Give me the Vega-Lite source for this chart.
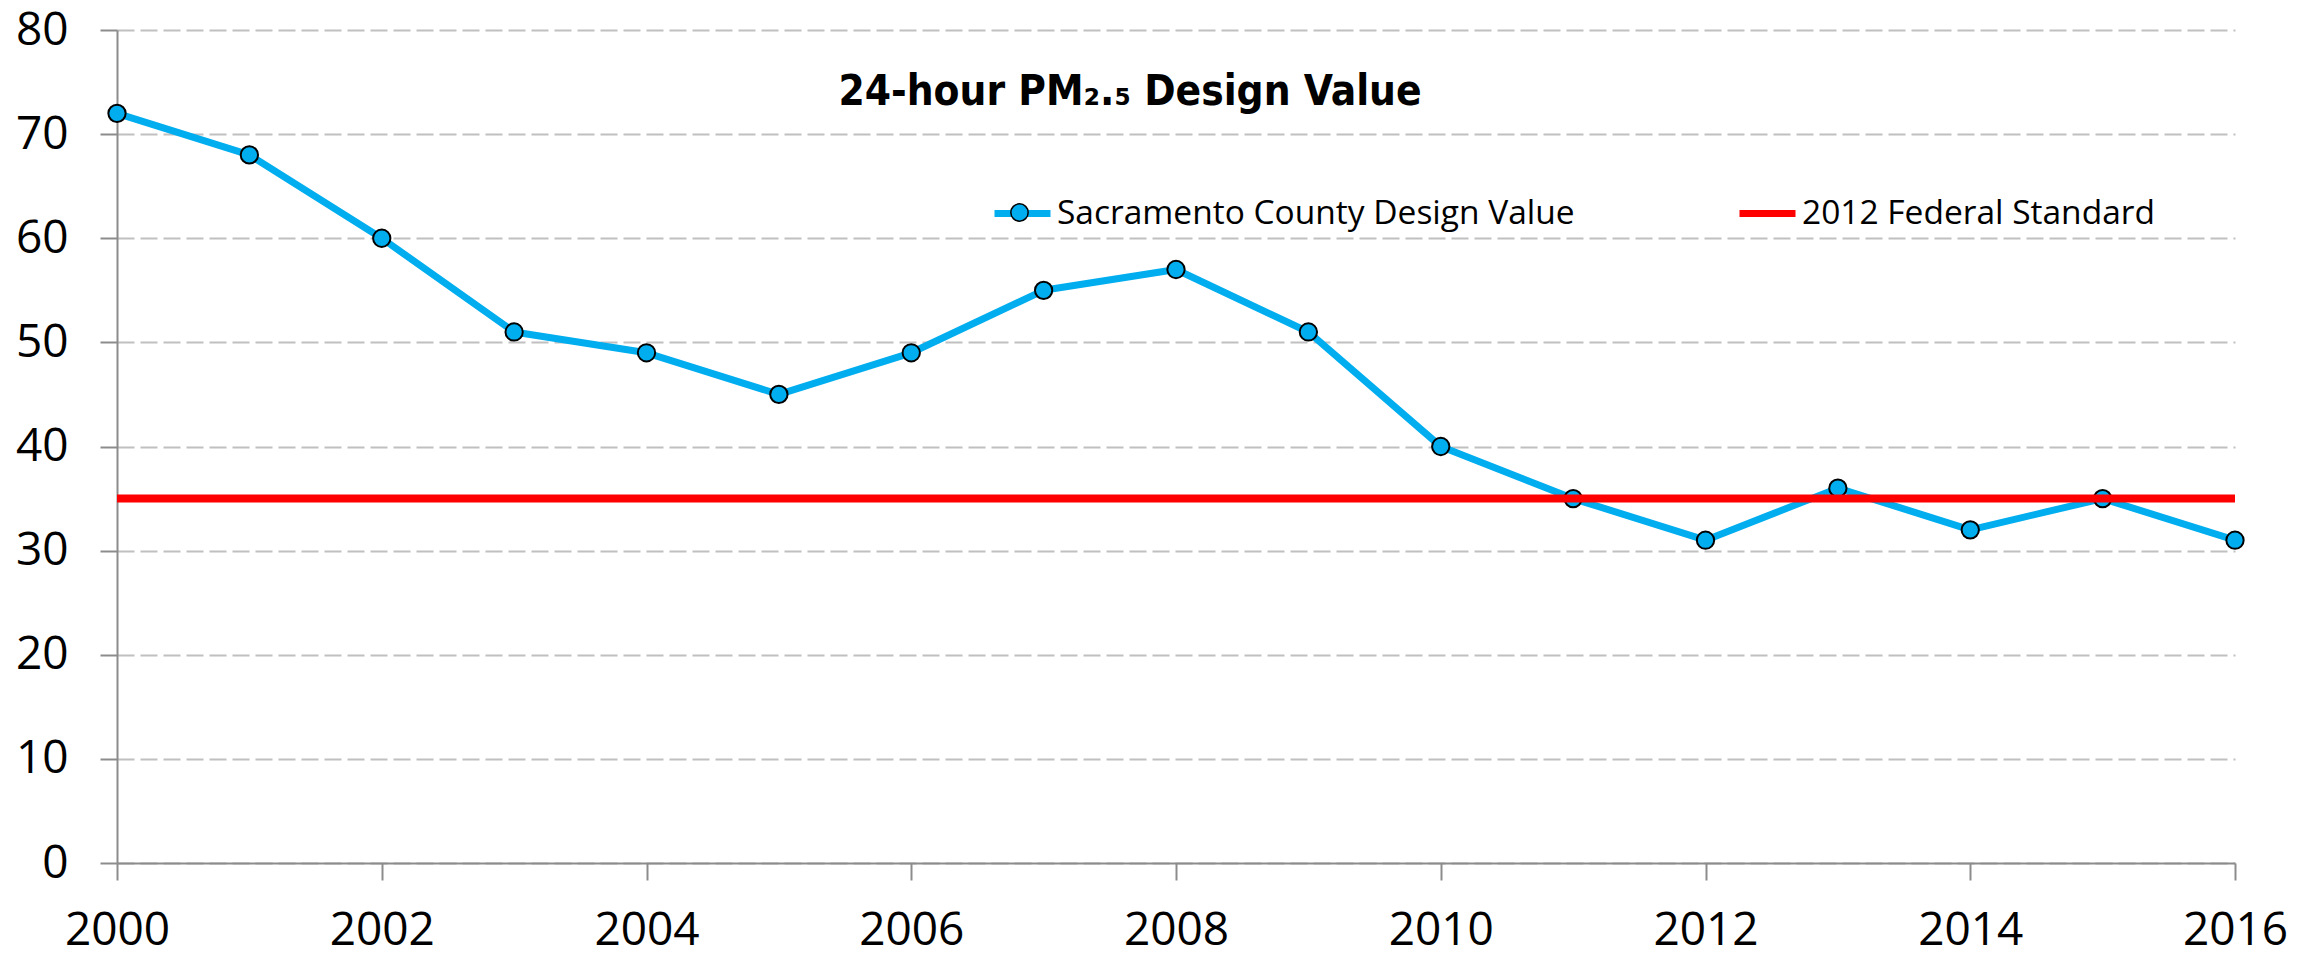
{
  "$schema": "https://vega.github.io/schema/vega-lite/v6.json",
  "width": 2118,
  "height": 833,
  "autosize": {"type": "none"},
  "padding": {"left": 117, "top": 30, "right": 85, "bottom": 93},
  "background": "white",
  "title": {
    "text": "24-hour PM₂.₅ Design Value",
    "font": "'DejaVu Sans Condensed', 'Roboto Condensed', Roboto",
    "fontWeight": "bold",
    "fontSize": 42,
    "color": "black",
    "anchor": "middle",
    "frame": "group",
    "orient": "top",
    "baseline": "alphabetic",
    "offset": -140,
    "dx": -46
  },
  "datasets": {
    "pm": [
      {"year": 2000, "value": 72, "series": "Sacramento County Design Value"},
      {"year": 2001, "value": 68, "series": "Sacramento County Design Value"},
      {"year": 2002, "value": 60, "series": "Sacramento County Design Value"},
      {"year": 2003, "value": 51, "series": "Sacramento County Design Value"},
      {"year": 2004, "value": 49, "series": "Sacramento County Design Value"},
      {"year": 2005, "value": 45, "series": "Sacramento County Design Value"},
      {"year": 2006, "value": 49, "series": "Sacramento County Design Value"},
      {"year": 2007, "value": 55, "series": "Sacramento County Design Value"},
      {"year": 2008, "value": 57, "series": "Sacramento County Design Value"},
      {"year": 2009, "value": 51, "series": "Sacramento County Design Value"},
      {"year": 2010, "value": 40, "series": "Sacramento County Design Value"},
      {"year": 2011, "value": 35, "series": "Sacramento County Design Value"},
      {"year": 2012, "value": 31, "series": "Sacramento County Design Value"},
      {"year": 2013, "value": 36, "series": "Sacramento County Design Value"},
      {"year": 2014, "value": 32, "series": "Sacramento County Design Value"},
      {"year": 2015, "value": 35, "series": "Sacramento County Design Value"},
      {"year": 2016, "value": 31, "series": "Sacramento County Design Value"}
    ],
    "std": [
      {"value": 35, "series": "2012 Federal Standard"}
    ]
  },
  "layer": [
    {
      "data": {"name": "pm"},
      "mark": {"type": "line", "strokeWidth": 7, "strokeCap": "round", "strokeJoin": "round"},
      "encoding": {
        "x": {
          "field": "year", "type": "quantitative",
          "scale": {"domain": [2000, 2016], "nice": false, "zero": false},
          "axis": {
            "values": [2000, 2002, 2004, 2006, 2008, 2010, 2012, 2014, 2016],
            "format": "d", "title": null, "grid": false,
            "domainColor": "#8c8c8c", "domainWidth": 2,
            "tickColor": "#8c8c8c", "tickWidth": 2, "tickSize": 17,
            "labelFont": "Open Sans", "labelFontSize": 46, "labelColor": "black",
            "labelPadding": 28, "labelFlush": false, "labelOverlap": false
          }
        },
        "y": {
          "field": "value", "type": "quantitative",
          "scale": {"domain": [0, 80], "nice": false},
          "axis": {
            "values": [0, 10, 20, 30, 40, 50, 60, 70, 80],
            "title": null, "grid": true,
            "gridColor": "#c0c0c0", "gridWidth": 2, "gridDash": [17, 6],
            "domainColor": "#8c8c8c", "domainWidth": 2,
            "tickColor": "#8c8c8c", "tickWidth": 2, "tickSize": 17,
            "labelFont": "Open Sans", "labelFontSize": 46, "labelColor": "black",
            "labelPadding": 32, "labelFlush": false, "labelOverlap": false
          }
        },
        "color": {
          "field": "series", "type": "nominal",
          "scale": {
            "domain": ["Sacramento County Design Value", "2012 Federal Standard"],
            "range": ["#00AEEF", "#FF0000"]
          },
          "legend": {
            "title": null,
            "orient": "none",
            "legendX": 874,
            "legendY": 152,
            "direction": "horizontal",
            "symbolType": "stroke",
            "symbolSize": 3136,
            "symbolStrokeWidth": 7,
            "labelFont": "Open Sans",
            "labelFontSize": 33.5,
            "labelColor": "black",
            "labelOffset": 3,
            "columnPadding": 150,
            "labelLimit": 800
          }
        }
      }
    },
    {
      "data": {"name": "pm"},
      "mark": {"type": "point", "filled": true, "fill": "#00AEEF", "stroke": "black", "strokeWidth": 2, "size": 300, "opacity": 1},
      "encoding": {
        "x": {"field": "year", "type": "quantitative"},
        "y": {"field": "value", "type": "quantitative"},
        "shape": {
          "field": "series", "type": "nominal",
          "scale": {"domain": ["Sacramento County Design Value"], "range": ["circle"]},
          "legend": {
            "title": null,
            "orient": "none",
            "legendX": 893,
            "legendY": 173,
            "symbolSize": 300,
            "labelExpr": "''",
            "labelFontSize": 1,
            "encode": {
              "symbols": {
                "update": {
                  "fill": {"value": "#00AEEF"},
                  "stroke": {"value": "black"},
                  "strokeWidth": {"value": 2},
                  "opacity": {"value": 1},
                  "fillOpacity": {"value": 1},
                  "strokeOpacity": {"value": 1}
                }
              }
            }
          }
        }
      }
    },
    {
      "data": {"name": "std"},
      "mark": {"type": "rule", "strokeWidth": 8},
      "encoding": {
        "y": {"field": "value", "type": "quantitative"},
        "color": {"field": "series", "type": "nominal"}
      }
    }
  ],
  "config": {
    "view": {"stroke": null}
  }
}
